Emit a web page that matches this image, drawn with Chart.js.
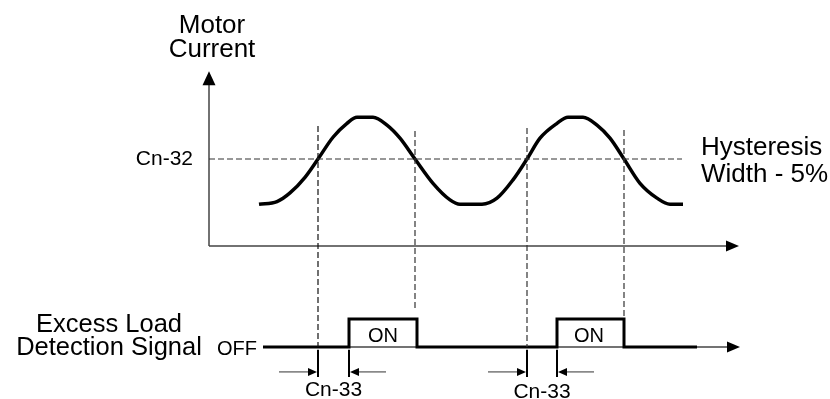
<!DOCTYPE html>
<html>
<head>
<meta charset="utf-8">
<script src="https://cdn.jsdelivr.net/npm/chart.js@4/dist/chart.umd.min.js"></script>
<style>
  html, body { margin: 0; padding: 0; background: #fff; }
  #timingChart { display: block; }
</style>
</head>
<body>
<canvas id="timingChart" width="830" height="399"></canvas>
<script>
// time axis in arbitrary units, current in % of the Cn-32 level
const curveTime = [5.0, 6.8, 8.1, 9.6, 10.9, 12.4, 13.8, 14.8, 16.4, 17.8, 19.1, 20.6, 22.4, 24.1, 25.1,
    27.3, 28.8, 30.4, 31.8, 33.1, 34.8, 35.9, 37.4, 38.8, 40.1, 41.5, 43.1, 44.8, 46.1, 47.4];
const curveCurrent = [48, 51, 61, 79, 100, 125, 141, 148, 148, 139, 124, 100, 72, 53, 48,
    48, 55, 76, 100, 124, 141, 148, 148, 139, 124, 100, 72, 55, 48, 48];

const thresholdLevel = 100;
const thresholdEnd = 47.3;

// moments the current crosses Cn-32, and the reach of each guide line (signal units)
const crossTimes = [10.9, 20.6, 31.8, 41.5];
const guideTop = [7.89, 7.71, 7.82, 7.75];
const guideBottom = [0, 1.32, 0, 1.0];

// excess load detection signal: 0 = OFF, 1 = ON
const signalTime = [5.4, 14.0, 20.8, 34.8, 41.5, 48.8];
const signalLevel = [0, 1, 0, 1, 0, 0];

const onDelays = [[10.9, 14.0], [31.8, 34.8]];

const toPoints = (xs, ys) => xs.map((x, i) => ({ x: x, y: ys[i] }));

const FONT = "'Liberation Sans', Arial, Helvetica, sans-serif";

function arrowHead(ctx, x, y, dir, len, half) {
    ctx.beginPath();
    if (dir === "up") {
        ctx.moveTo(x, y);
        ctx.lineTo(x - half, y + len);
        ctx.lineTo(x + half, y + len);
    } else if (dir === "right") {
        ctx.moveTo(x, y);
        ctx.lineTo(x - len, y - half);
        ctx.lineTo(x - len, y + half);
    } else {
        ctx.moveTo(x, y);
        ctx.lineTo(x + len, y - half);
        ctx.lineTo(x + len, y + half);
    }
    ctx.closePath();
    ctx.fill();
}

const diagramPlugin = {
    id: "diagram",
    beforeDatasetsDraw(chart) {
        const ctx = chart.ctx;
        const xs = chart.scales.x;
        const yc = chart.scales.y;
        const ysg = chart.scales.ySig;

        ctx.save();
        ctx.strokeStyle = "#444";
        ctx.fillStyle = "#000";
        ctx.lineWidth = 1.5;

        // current axes
        const x0 = xs.getPixelForValue(0);
        const y0 = yc.getPixelForValue(0);
        const yTip = yc.getPixelForValue(201);
        const xTip = xs.getPixelForValue(53.0);
        ctx.beginPath();
        ctx.moveTo(x0, y0);
        ctx.lineTo(x0, yTip + 10);
        ctx.moveTo(x0, y0);
        ctx.lineTo(xTip - 10, y0);
        ctx.stroke();
        arrowHead(ctx, x0, yTip, "up", 14, 6.5);
        arrowHead(ctx, xTip, y0, "right", 13, 5.5);

        // signal axis
        const sy = ysg.getPixelForValue(0);
        const sTip = xs.getPixelForValue(53.1);
        ctx.beginPath();
        ctx.moveTo(xs.getPixelForValue(signalTime[0]), sy);
        ctx.lineTo(sTip - 10, sy);
        ctx.stroke();
        arrowHead(ctx, sTip, sy, "right", 13, 5.5);
        ctx.restore();
    },
    afterDatasetsDraw(chart) {
        const ctx = chart.ctx;
        const xs = chart.scales.x;
        const yc = chart.scales.y;
        const ysg = chart.scales.ySig;

        ctx.save();
        ctx.fillStyle = "#000";
        ctx.strokeStyle = "#000";

        // Cn-33 delay markers
        const tickTop = ysg.getPixelForValue(-0.1);
        const tickBot = ysg.getPixelForValue(-1.07);
        const arrowY = ysg.getPixelForValue(-0.89);
        onDelays.forEach((pair, i) => {
            const a = xs.getPixelForValue(pair[0]);
            const b = xs.getPixelForValue(pair[1]);
            ctx.lineWidth = 2;
            ctx.beginPath();
            ctx.moveTo(a, tickTop);
            ctx.lineTo(a, tickBot);
            ctx.moveTo(b, tickTop);
            ctx.lineTo(b, tickBot);
            ctx.stroke();
            ctx.lineWidth = 1;
            ctx.strokeStyle = "#333";
            ctx.beginPath();
            ctx.moveTo(xs.getPixelForValue(pair[0] - 3.9), arrowY);
            ctx.lineTo(a - 4, arrowY);
            ctx.moveTo(xs.getPixelForValue(pair[1] + 3.7), arrowY);
            ctx.lineTo(b + 4, arrowY);
            ctx.stroke();
            ctx.strokeStyle = "#000";
            arrowHead(ctx, a - 1, arrowY, "right", 9, 4);
            arrowHead(ctx, b + 1, arrowY, "left", 9, 4);

            ctx.font = "21px " + FONT;
            ctx.textAlign = "center";
            ctx.textBaseline = "alphabetic";
            ctx.fillText("Cn-33", xs.getPixelForValue((pair[0] + pair[1]) / 2),
                ysg.getPixelForValue(i === 0 ? -1.75 : -1.82));
        });

        ctx.textBaseline = "alphabetic";

        // motor current title
        ctx.font = "26px " + FONT;
        ctx.textAlign = "center";
        ctx.fillText("Motor", xs.getPixelForValue(0.3), yc.getPixelForValue(245));
        ctx.fillText("Current", xs.getPixelForValue(0.3), yc.getPixelForValue(217));

        // threshold label
        ctx.font = "21px " + FONT;
        ctx.textAlign = "right";
        ctx.textBaseline = "middle";
        ctx.fillText("Cn-32", xs.getPixelForValue(-1.6), yc.getPixelForValue(thresholdLevel));

        // hysteresis note
        ctx.font = "26px " + FONT;
        ctx.textAlign = "left";
        ctx.textBaseline = "alphabetic";
        ctx.fillText("Hysteresis", xs.getPixelForValue(49.2), yc.getPixelForValue(104.6));
        ctx.fillText("Width - 5%", xs.getPixelForValue(49.2), yc.getPixelForValue(73.6));

        // signal title
        ctx.font = "25.5px " + FONT;
        ctx.textAlign = "center";
        ctx.fillText("Excess Load", xs.getPixelForValue(-10), ysg.getPixelForValue(0.54));
        ctx.fillText("Detection Signal", xs.getPixelForValue(-10), ysg.getPixelForValue(-0.29));

        ctx.font = "20px " + FONT;
        ctx.textAlign = "left";
        ctx.fillText("OFF", xs.getPixelForValue(0.8), ysg.getPixelForValue(-0.29));

        ctx.font = "20px " + FONT;
        ctx.textAlign = "center";
        ctx.fillText("ON", xs.getPixelForValue(17.4), ysg.getPixelForValue(0.18));
        ctx.fillText("ON", xs.getPixelForValue(38.0), ysg.getPixelForValue(0.18));

        ctx.restore();
    }
};

const dashStyle = {
    borderColor: "#333",
    borderWidth: 1.2,
    borderDash: [6, 3],
    pointRadius: 0,
    fill: false
};

const datasets = [];

datasets.push(Object.assign({
    label: "Cn-32",
    data: toPoints([0, thresholdEnd], [thresholdLevel, thresholdLevel]),
    yAxisID: "y"
}, dashStyle));

crossTimes.forEach((t, i) => {
    datasets.push(Object.assign({
        label: "guide " + (i + 1),
        data: toPoints([t, t], [guideTop[i], guideBottom[i]]),
        yAxisID: "ySig"
    }, dashStyle, i === 0 ? { borderColor: "#111" } : {}));
});

datasets.push({
    label: "Motor Current",
    data: toPoints(curveTime, curveCurrent),
    yAxisID: "y",
    borderColor: "#000",
    borderWidth: 3.5,
    pointRadius: 0,
    cubicInterpolationMode: "monotone",
    borderCapStyle: "butt",
    fill: false
});

datasets.push({
    label: "Excess Load Detection Signal",
    data: toPoints(signalTime, signalLevel),
    yAxisID: "ySig",
    borderColor: "#000",
    borderWidth: 3,
    pointRadius: 0,
    stepped: true,
    borderJoinStyle: "miter",
    fill: false
});

new Chart(document.getElementById("timingChart"), {
    type: "line",
    data: { datasets: datasets },
    options: {
        responsive: false,
        animation: false,
        events: [],
        layout: { padding: 0 },
        plugins: {
            legend: { display: false },
            tooltip: { enabled: false }
        },
        scales: {
            x: { type: "linear", display: false, min: -20.9, max: 62.1 },
            y: { type: "linear", display: false, min: -175.9, max: 282.8 },
            ySig: { type: "linear", display: false, min: -1.857, max: 12.393 }
        }
    },
    plugins: [diagramPlugin]
});
</script>
</body>
</html>
